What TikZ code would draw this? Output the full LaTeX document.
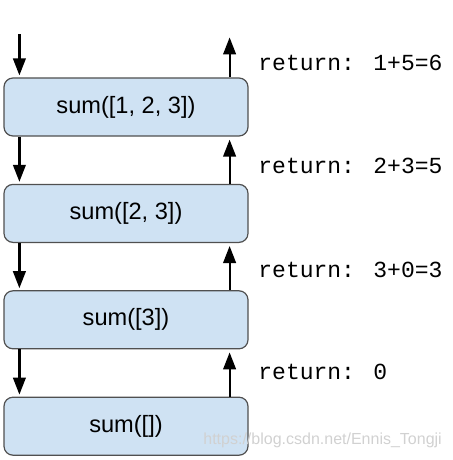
\documentclass[tikz,border=0pt]{standalone}
\usepackage{fontspec}
\setmainfont{Liberation Sans}
\newfontfamily\retfont{Liberation Mono}
\usetikzlibrary{arrows.meta,positioning}
\definecolor{callblue}{RGB}{207,226,243}
\definecolor{calledge}{RGB}{80,80,80}

\begin{document}
\begin{tikzpicture}[
  x=0.5pt, y=-0.5pt,
  node distance=23.6pt,
  call/.style={rectangle, draw=calledge, semithick, rounded corners=4.5pt,
               minimum width=122pt, minimum height=29pt,
               align=center, font=\fontsize{11.8}{14}\selectfont, fill=callblue},
  ret/.style={anchor=west, inner sep=0pt, font=\retfont\fontsize{11.5}{14}\selectfont},
  down/.style={-{Triangle[length=8.5pt, width=6.3pt]}, line width=1.1pt, shorten >=1pt},
  up/.style={-{Triangle[length=8.5pt, width=6.3pt]}, line width=1.1pt, shorten >=1.5pt}
]
\useasboundingbox (0,0) rectangle (452,460);

\node[call] at (126,107)   (s123) {sum([1, 2, 3])};
\node[call, below=of s123] (s23)  {sum([2, 3])};
\node[call, below=of s23]  (s3)   {sum([3])};
\node[call, below=of s3]   (s0)   {sum([])};

% calls going down
\coordinate (callin)  at ([xshift=8pt, yshift=21.5pt]s123.north west);
\coordinate (retout)  at ([xshift=-9.5pt, yshift=21.5pt]s123.north east);
\draw[down] (callin) -- (callin |- s123.north);
\draw[down] ([xshift=8pt]s123.south west) -- ([xshift=8pt]s23.north west);
\draw[down] ([xshift=8pt]s23.south west)  -- ([xshift=8pt]s3.north west);
\draw[down] ([xshift=8pt]s3.south west)   -- ([xshift=8pt]s0.north west);

% results going up
\draw[up] (retout |- s123.north) -- (retout);
\draw[up] ([xshift=-9.5pt]s23.north east) -- ([xshift=-9.5pt]s123.south east);
\draw[up] ([xshift=-9.5pt]s3.north east)  -- ([xshift=-9.5pt]s23.south east);
\draw[up] ([xshift=-9.5pt]s0.north east)  -- ([xshift=-9.5pt]s3.south east);

\node[ret] (r1) at (258,63)  {return: 1+5=6};
\node[ret] (r2) at (258,166) {return: 2+3=5};
\node[ret] (r3) at (258,270) {return: 3+0=3};
\node[ret] (r4) at (258,372) {return: 0};

\node[anchor=west, inner sep=0pt, text=black!18, font=\fontsize{8}{10}\selectfont]
  (mark) at (203,440) {https://blog.csdn.net/Ennis\_Tongji};
\end{tikzpicture}
\end{document}
